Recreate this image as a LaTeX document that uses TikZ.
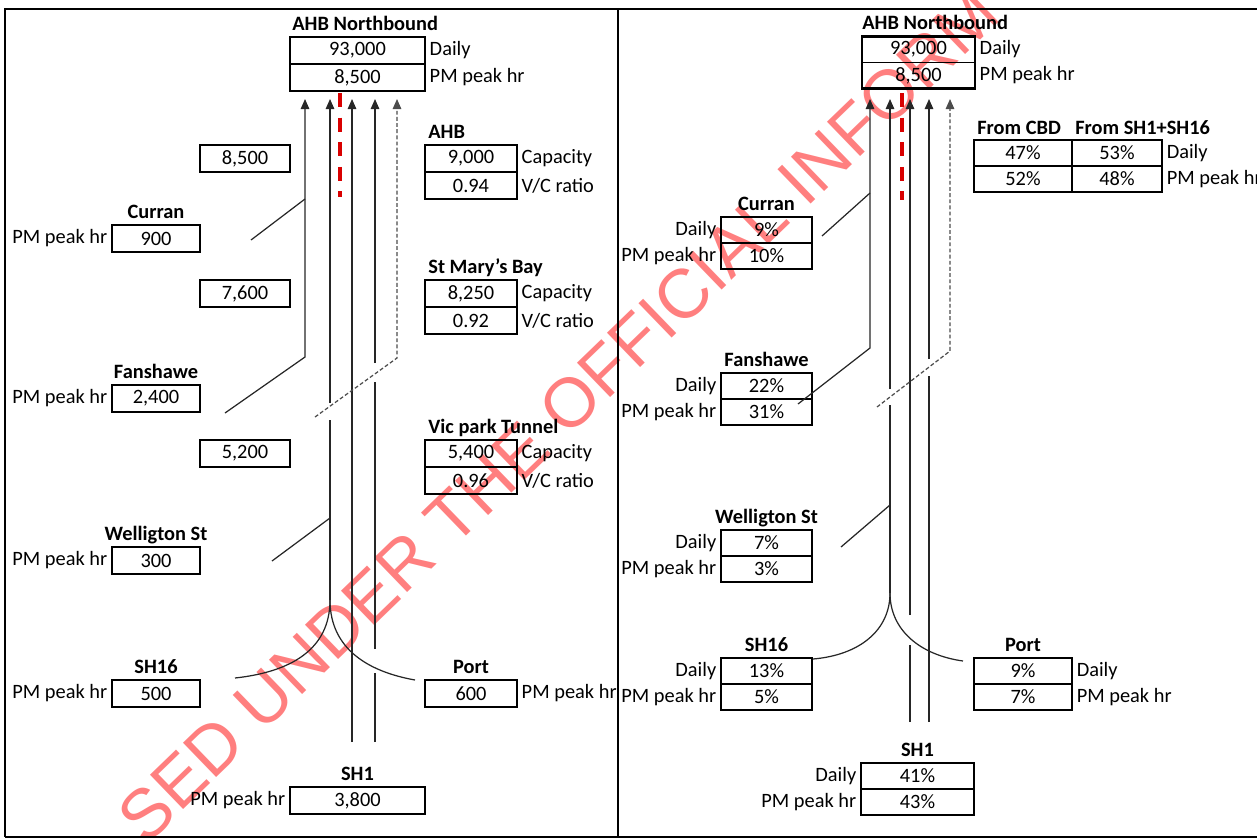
\documentclass[tikz,border=0pt]{standalone}
\usepackage{fontspec}
\setmainfont{Carlito}
\newfontfamily\wmfont{Liberation Sans}
\usetikzlibrary{positioning,arrows.meta}
\tikzset{
  every node/.style={font=\fontsize{11.6}{14}\selectfont},
  cell/.style={draw, line width=0.6pt, outer sep=0pt, inner sep=0pt, minimum width=#1, minimum height=0.54cm},
  pcell/.style={cell=#1, minimum height=0.52cm},
  vbox/.style={cell=#1, line width=1.2pt},
  frame/.style={line width=1.2pt},
  ttl/.style={font=\fontsize{11.6}{14}\selectfont\bfseries, inner sep=0pt},
  lab/.style={inner sep=2.5pt},
  road/.style={line width=0.7pt, black!85},
  roadarr/.style={road, -{Triangle[length=0.2cm,width=0.17cm]}},
  ramp/.style={line width=0.7pt, black!70, dash pattern=on 2.2pt off 1.3pt, -{Triangle[length=0.2cm,width=0.17cm]}},
  reddash/.style={red!85!black, line width=2.2pt, dash pattern=on 8pt off 6pt},
}
\begin{document}
\begin{tikzpicture}[x=0.02cm,y=-0.02cm]
\useasboundingbox (0,0) rectangle (1257,839);
\begin{scope}
  \clip (0,0) rectangle (1257,839);
  \node[text=red, opacity=0.5, rotate=44, inner sep=0pt, font=\wmfont\fontsize{39.5}{40}\selectfont] (wm) at (558,415) {SED UNDER THE OFFICIAL INFORM};
\end{scope}
\draw[line width=1.4pt] (5,837) -- (5,9) -- (1257,9);
\draw[line width=1.4pt] (618,9) -- (618,837);
\draw[line width=1.4pt] (5,837) -- (1257,837);

% left panel: volumes
\node[cell=2.7cm] (nbD) at (357.5,50.5) {93,000};
\node[cell=2.7cm, below=0pt of nbD] (nbP) {8,500};
\draw[frame] (nbD.north west) rectangle (nbP.south east);
\node[ttl, anchor=base west] (nbT) at ([xshift=0.04cm,yshift=0.14cm]nbD.north west) {AHB Northbound};
\node[lab, anchor=west] at (nbD.east) {Daily};
\node[lab, anchor=west] at (nbP.east) {PM peak hr};

\node[vbox=1.8cm] (flA) at (245,158.5) {8,500};
\node[vbox=1.8cm] (flB) at (245,293.5) {7,600};
\node[vbox=1.8cm] (flC) at (245,453.5) {5,200};

\node[vbox=1.76cm] (cur) at (156,238.5) {900};
\node[ttl, anchor=base] at ([yshift=0.14cm]cur.north) {Curran};
\node[lab, anchor=east] at (cur.west) {PM peak hr};
\node[vbox=1.76cm] (fan) at (156,398.5) {2,400};
\node[ttl, anchor=base] at ([yshift=0.14cm]fan.north) {Fanshawe};
\node[lab, anchor=east] at (fan.west) {PM peak hr};
\node[vbox=1.76cm] (wel) at (156,560.5) {300};
\node[ttl, anchor=base] at ([yshift=0.14cm]wel.north) {Welligton St};
\node[lab, anchor=east] at (wel.west) {PM peak hr};
\node[vbox=1.76cm] (sxt) at (156,693.5) {500};
\node[ttl, anchor=base] at ([yshift=0.14cm]sxt.north) {SH16};
\node[lab, anchor=east] at (sxt.west) {PM peak hr};

\node[cell=1.84cm] (ahbC) at (471,158.5) {9,000};
\node[cell=1.84cm, below=0pt of ahbC] (ahbR) {0.94};
\draw[frame] (ahbC.north west) rectangle (ahbR.south east);
\node[ttl, anchor=base west] at ([xshift=0.06cm,yshift=0.14cm]ahbC.north west) {AHB};
\node[lab, anchor=west] at (ahbC.east) {Capacity};
\node[lab, anchor=west] at (ahbR.east) {V/C ratio};
\node[cell=1.84cm] (smbC) at (471,293.5) {8,250};
\node[cell=1.84cm, below=0pt of smbC] (smbR) {0.92};
\draw[frame] (smbC.north west) rectangle (smbR.south east);
\node[ttl, anchor=base west] at ([xshift=0.06cm,yshift=0.14cm]smbC.north west) {St Mary's Bay};
\node[lab, anchor=west] at (smbC.east) {Capacity};
\node[lab, anchor=west] at (smbR.east) {V/C ratio};
\node[cell=1.84cm] (vptC) at (471,453.5) {5,400};
\node[cell=1.84cm, below=0pt of vptC] (vptR) {0.96};
\draw[frame] (vptC.north west) rectangle (vptR.south east);
\node[ttl, anchor=base west] at ([xshift=0.06cm,yshift=0.14cm]vptC.north west) {Vic park Tunnel};
\node[lab, anchor=west] at (vptC.east) {Capacity};
\node[lab, anchor=west] at (vptR.east) {V/C ratio};

\node[vbox=1.84cm] (prt) at (471,693.5) {600};
\node[ttl, anchor=base] at ([yshift=0.14cm]prt.north) {Port};
\node[lab, anchor=west] at (prt.east) {PM peak hr};
\node[vbox=2.7cm] (sh1) at (357.5,800.5) {3,800};
\node[ttl, anchor=base] at ([yshift=0.14cm]sh1.north) {SH1};
\node[lab, anchor=east] at (sh1.west) {PM peak hr};

\draw[roadarr] (225,413) -- (305,357) -- (305,99);
\draw[road] (251,240) -- (305,199);
\draw[roadarr] (330,403) -- (330,99);
\draw[road] (330,600) -- (330,420);
\draw[road] (272,561) -- (330,518);
\draw[road] (330,600) .. controls (330,650) and (290,672) .. (235,678);
\draw[road] (330,600) .. controls (330,650) and (370,672) .. (415,680);
\draw[roadarr] (352,742) -- (352,99);
\draw[road] (375,742) -- (375,673) (375,649) -- (375,382);
\draw[roadarr] (375,363) -- (375,99);
\draw[ramp] (315,417) -- (397,358) -- (397,99);
\draw[reddash] (340,93) -- (340,197);

% right panel: shares
\node[pcell=2.26cm] (rnbD) at (918.5,49.5) {93,000};
\node[pcell=2.26cm, below=0pt of rnbD] (rnbP) {8,500};
\draw[frame] (rnbD.north west) rectangle (rnbP.south east);
\node[ttl, anchor=base west] at ([yshift=0.14cm]rnbD.north west) {AHB Northbound};
\node[lab, anchor=west] at (rnbD.east) {Daily};
\node[lab, anchor=west] at (rnbP.east) {PM peak hr};

\node[pcell=1.96cm] (cbdD) at (1023,153) {47\%};
\node[pcell=1.96cm, below=0pt of cbdD] (cbdP) {52\%};
\node[pcell=1.8cm] (shhD) at (1117,153) {53\%};
\node[pcell=1.8cm, below=0pt of shhD] (shhP) {48\%};
\draw[frame] (cbdD.north west) rectangle (shhP.south east);
\node[ttl, anchor=base west] at ([xshift=0.06cm,yshift=0.12cm]cbdD.north west) {From CBD};
\node[ttl, anchor=base west] at ([xshift=0.06cm,yshift=0.12cm]shhD.north west) {From SH1+SH16};
\node[lab, anchor=west] at (shhD.east) {Daily};
\node[lab, anchor=west] at (shhP.east) {PM peak hr};

\node[pcell=1.82cm] (rcurD) at (766.5,230) {9\%};
\node[pcell=1.82cm, below=0pt of rcurD] (rcurP) {10\%};
\draw[frame] (rcurD.north west) rectangle (rcurP.south east);
\node[ttl, anchor=base] at ([yshift=0.14cm]rcurD.north) {Curran};
\node[lab, anchor=east] at (rcurD.west) {Daily};
\node[lab, anchor=east] at (rcurP.west) {PM peak hr};
\node[pcell=1.82cm] (rfanD) at (766.5,386) {22\%};
\node[pcell=1.82cm, below=0pt of rfanD] (rfanP) {31\%};
\draw[frame] (rfanD.north west) rectangle (rfanP.south east);
\node[ttl, anchor=base] at ([yshift=0.14cm]rfanD.north) {Fanshawe};
\node[lab, anchor=east] at (rfanD.west) {Daily};
\node[lab, anchor=east] at (rfanP.west) {PM peak hr};
\node[pcell=1.82cm] (rwelD) at (766.5,543) {7\%};
\node[pcell=1.82cm, below=0pt of rwelD] (rwelP) {3\%};
\draw[frame] (rwelD.north west) rectangle (rwelP.south east);
\node[ttl, anchor=base] at ([yshift=0.14cm]rwelD.north) {Welligton St};
\node[lab, anchor=east] at (rwelD.west) {Daily};
\node[lab, anchor=east] at (rwelP.west) {PM peak hr};
\node[pcell=1.82cm] (rsxtD) at (766.5,671) {13\%};
\node[pcell=1.82cm, below=0pt of rsxtD] (rsxtP) {5\%};
\draw[frame] (rsxtD.north west) rectangle (rsxtP.south east);
\node[ttl, anchor=base] at ([yshift=0.14cm]rsxtD.north) {SH16};
\node[lab, anchor=east] at (rsxtD.west) {Daily};
\node[lab, anchor=east] at (rsxtP.west) {PM peak hr};

\node[pcell=1.96cm] (rprtD) at (1023,671) {9\%};
\node[pcell=1.96cm, below=0pt of rprtD] (rprtP) {7\%};
\draw[frame] (rprtD.north west) rectangle (rprtP.south east);
\node[ttl, anchor=base] at ([yshift=0.14cm]rprtD.north) {Port};
\node[lab, anchor=west] at (rprtD.east) {Daily};
\node[lab, anchor=west] at (rprtP.east) {PM peak hr};
\node[pcell=2.26cm] (rsh1D) at (917.5,776) {41\%};
\node[pcell=2.26cm, below=0pt of rsh1D] (rsh1P) {43\%};
\draw[frame] (rsh1D.north west) rectangle (rsh1P.south east);
\node[ttl, anchor=base] at ([yshift=0.14cm]rsh1D.north) {SH1};
\node[lab, anchor=east] at (rsh1D.west) {Daily};
\node[lab, anchor=east] at (rsh1P.west) {PM peak hr};

\draw[roadarr] (798,404) -- (870,348) -- (870,99);
\draw[road] (822,236) -- (870,193);
\draw[roadarr] (890,389) -- (890,99);
\draw[road] (890,593) -- (890,405);
\draw[road] (841,547) -- (890,505);
\draw[road] (890,593) .. controls (890,630) and (860,655) .. (813,659);
\draw[road] (890,593) .. controls (890,630) and (920,655) .. (963,661);
\draw[roadarr] (910,615) -- (910,99);
\draw[road] (910,722) -- (910,645);
\draw[road] (929,722) -- (929,376);
\draw[roadarr] (929,359) -- (929,99);
\draw[ramp] (877,407) -- (950,351) -- (950,99);
\draw[reddash] (902,93) -- (902,200);
\end{tikzpicture}
\end{document}
